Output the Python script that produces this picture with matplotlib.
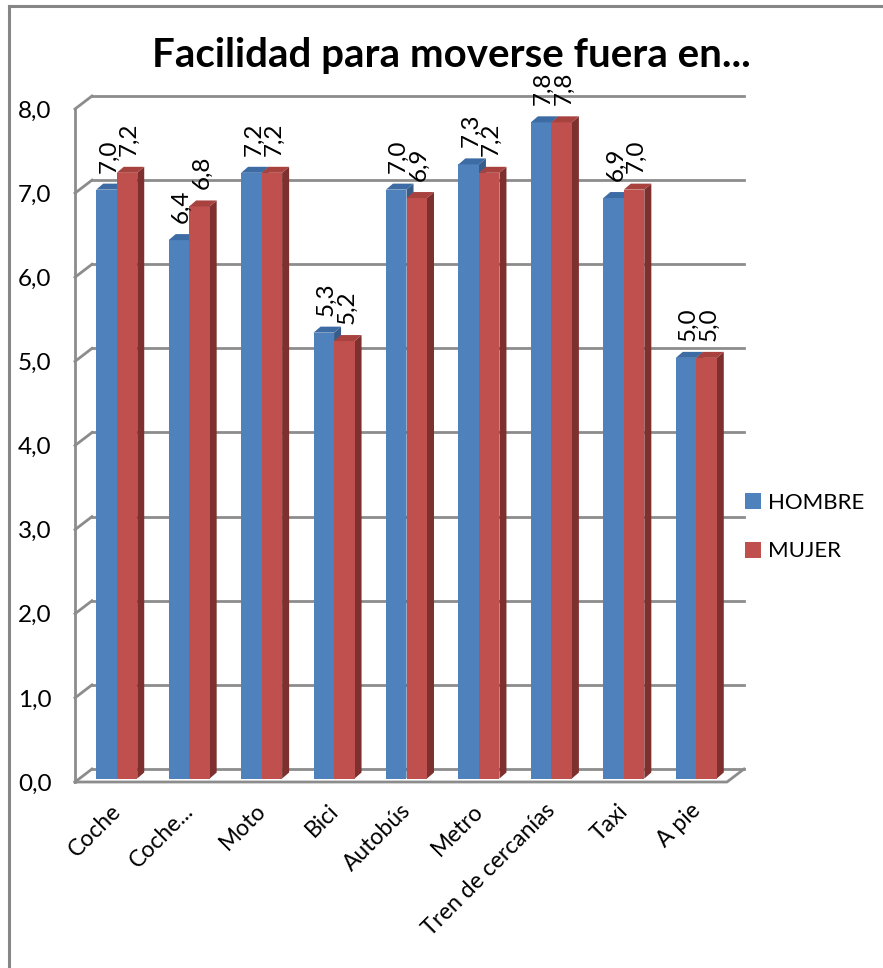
import matplotlib
matplotlib.use('Agg')
import matplotlib.pyplot as plt
from matplotlib.patches import Polygon, Patch
from matplotlib.lines import Line2D
import matplotlib.transforms as mtransforms

categories = ["Coche", "Coche...", "Moto", "Bici", "Autobús", "Metro",
              "Tren de cercanías", "Taxi", "A pie"]
hombre = [7.0, 6.4, 7.2, 5.3, 7.0, 7.3, 7.8, 6.9, 5.0]
mujer = [7.2, 6.8, 7.2, 5.2, 6.9, 7.2, 7.8, 7.0, 5.0]
series_names = ["HOMBRE", "MUJER"]
yticks = [0, 1, 2, 3, 4, 5, 6, 7, 8]
title = "Facilidad para moverse fuera en..."

FONT = ['Lato', 'DejaVu Sans']
plt.rcParams['font.family'] = FONT

W, H = 883, 968
fig = plt.figure(figsize=(W / 100, H / 100), dpi=100)
L, R, B, T = 75, 727, 782, 109  # front plane in pixels
ax = fig.add_axes([L / W, 1 - B / H, (R - L) / W, (B - T) / H])
n = len(categories)
ax.set_xlim(-0.5, n - 0.5)
ax.set_ylim(0, 8)
for s in ax.spines.values():
    s.set_visible(False)

sx = (R - L) / n
sy = (B - T) / 8.0
WX, WY = 17 / sx, 13 / sy      # wall depth
BX, BY = 5.5 / sx, 3.5 / sy    # bar position inside depth
DX, DY = 7 / sx, 6 / sy        # bar depth
bw = 20.5 / sx

grid_c = '#8C8C8C'
glw = 2.0
x_left, x_right = -0.5, n - 0.5
for v in yticks:
    ax.add_line(Line2D([x_left + WX, x_right + WX], [v + WY, v + WY], color=grid_c, lw=glw, zorder=1, clip_on=False))
    ax.add_line(Line2D([x_left, x_left + WX], [v, v + WY], color=grid_c, lw=glw, zorder=1, clip_on=False))
ax.add_line(Line2D([x_left, x_right, x_right + WX], [0, 0, WY], color=grid_c, lw=glw, zorder=1, clip_on=False))
ax.add_line(Line2D([x_left, x_left], [0, 8], color=grid_c, lw=glw, zorder=1, clip_on=False))

colors = [('#4F81BD', '#3D6BA3', '#385D8A'), ('#C0504D', '#A7423F', '#7D302E')]
label_tr = mtransforms.offset_copy(ax.transData, fig=fig, y=8, units='points')
z = 3
for i in range(n):
    for s, vals in enumerate([hombre, mujer]):
        v = vals[i]
        fc, tc, sc = colors[s]
        x0 = i - bw + s * bw + BX
        y0 = BY
        y1 = v + BY
        side = Polygon([(x0 + bw, y0), (x0 + bw + DX, y0 + DY), (x0 + bw + DX, y1 + DY), (x0 + bw, y1)],
                       closed=True, fc=sc, ec='none', zorder=z, clip_on=False)
        front = Polygon([(x0, y0), (x0 + bw, y0), (x0 + bw, y1), (x0, y1)],
                        closed=True, fc=fc, ec='none', zorder=z + 1, clip_on=False)
        top = Polygon([(x0, y1), (x0 + bw, y1), (x0 + bw + DX, y1 + DY), (x0 + DX, y1 + DY)],
                      closed=True, fc=tc, ec='none', zorder=z + 1, clip_on=False)
        for p in (side, front, top):
            ax.add_patch(p)
        z += 2
        ax.text(x0 + bw / 2 + DX / 3, y1 + DY, f"{v:.1f}".replace('.', ','), rotation=90,
                ha='center', va='bottom', fontsize=17.5, transform=label_tr, zorder=50, clip_on=False)

ax.set_yticks(yticks)
ax.set_yticklabels([f"{v:.1f}".replace('.', ',') for v in yticks], fontsize=17.5)
ax.tick_params(axis='y', length=0, pad=17)
ax.set_xticks(range(n))
ax.set_xticklabels(categories, fontsize=16.5, rotation=45, ha='right', va='top', rotation_mode='anchor')
ax.tick_params(axis='x', length=0, pad=13)
shift = mtransforms.ScaledTranslation(-1 / 72, 0, fig.dpi_scale_trans)
for lab in ax.get_xticklabels():
    lab.set_transform(lab.get_transform() + shift)

fig.text(451 / W, 1 - 55 / H, title, ha='center', va='center', fontsize=29, fontweight='bold')

handles = [Patch(fc=colors[0][0], ec='none'), Patch(fc=colors[1][0], ec='none')]
fig.legend(handles, series_names, loc='center left', bbox_to_anchor=(738 / W, 1 - 527 / H),
           frameon=False, fontsize=16, handlelength=0.75, handleheight=0.75,
           handletextpad=0.3, labelspacing=1.3, borderaxespad=0, borderpad=0.3)

border_c = '#868686'
fig.add_artist(Line2D([8.5 / W, 8.5 / W], [0, 1 - 6 / H], color=border_c, lw=2.2, transform=fig.transFigure))
fig.add_artist(Line2D([8.5 / W, 1], [1 - 6 / H, 1 - 6 / H], color=border_c, lw=2.2, transform=fig.transFigure))

fig.savefig('out.png', dpi=100, facecolor='white')
